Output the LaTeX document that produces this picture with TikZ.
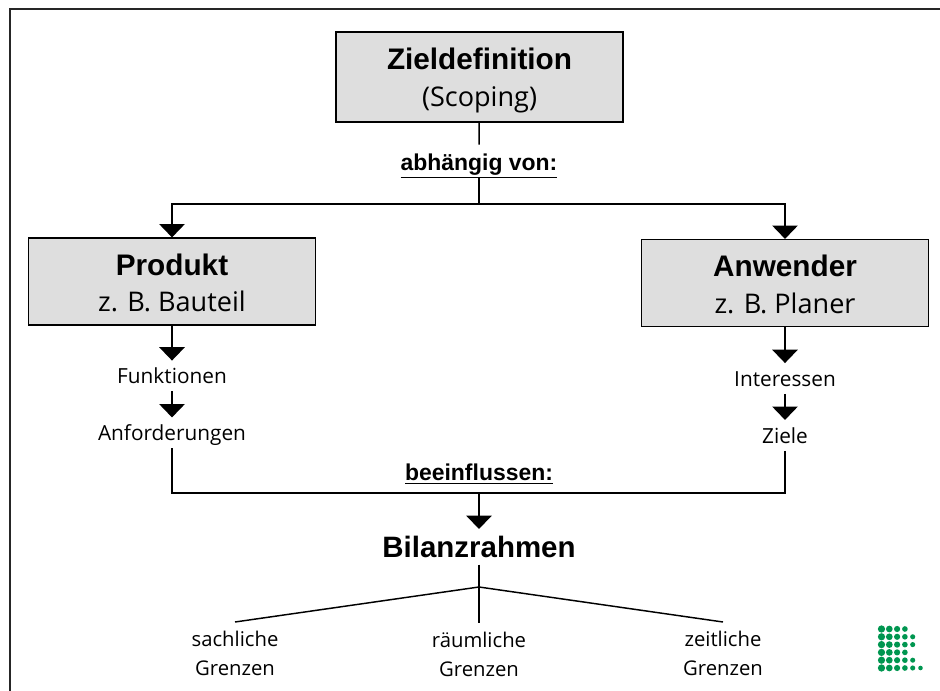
\documentclass[tikz,border=0pt]{standalone}
\usepackage{fontspec}
\setmainfont{Open Sans}
\newfontfamily\headfont{Liberation Sans}[BoldFont={Liberation Sans Bold}]
\usetikzlibrary{arrows.meta, positioning}
\definecolor{boxgray}{RGB}{222,222,222}
\definecolor{logogreen}{RGB}{0,150,80}
\newcommand{\boxhead}[2][18pt]{{\headfont\bfseries\fontsize{22.3}{27}\selectfont\rule{0pt}{#1}#2}}

\begin{document}
\begin{tikzpicture}[
    x=0.75pt, y=-0.75pt,
    >={Triangle[width=19pt, length=10pt]},
    box/.style={draw, line width=1.1pt, fill=boxgray, minimum width=215pt, align=center, inner sep=0pt, font=\fontsize{20.3}{27.4}\selectfont},
    sublabel/.style={inner sep=0pt, text height=17.25pt, text depth=5.5pt, font=\fontsize{15.6}{18}\selectfont},
    relation/.style={inner sep=0pt, text height=19.5pt, text depth=5.25pt, font=\headfont\bfseries\fontsize{17.2}{21}\selectfont},
    limit/.style={inner xsep=0pt, inner ysep=6.75pt, align=center, anchor=north, font=\fontsize{15.2}{21.75}\selectfont},
    line/.style={line width=1.1pt},
    flow/.style={->, line width=1.1pt},
]
\useasboundingbox (0,0) rectangle (940,691);

% === FRAME ===
\draw[line width=1.5pt, black!85] (940,9.5) -- (9.5,9.5) -- (9.5,691);

% === TOP BOX ===
\node[box, minimum height=67.5pt] (ziel) at (479.5,77) {\boxhead[21pt]{Zieldefinition}\\(Scoping)};
\node[relation] (abh) at (479,161.5) {\underline{abhängig von:}};
\coordinate (split) at (479,204);
\draw[line] (ziel) -- (abh);
\draw[line] (abh) -- (split);

% === LEFT / RIGHT BOXES ===
\node[box, minimum height=65pt] (produkt) at (172,281.5) {\boxhead{Produkt}\\z. B. Bauteil};
\node[box, minimum height=65pt] (anwender) at (785,283) {\boxhead{Anwender}\\z. B. Planer};
\draw[flow] (split) -| (produkt);
\draw[flow] (split) -| (anwender);

% === LEFT CHAIN ===
\node[sublabel, below=26.25pt of produkt] (funktionen) {Funktionen};
\node[sublabel, below=19.5pt of funktionen] (anforderungen) {Anforderungen};
\draw[flow] (produkt) -- (funktionen);
\draw[flow] (funktionen) -- (anforderungen);

% === RIGHT CHAIN ===
\node[sublabel, below=27pt of anwender] (interessen) {Interessen};
\node[sublabel, below=19.5pt of interessen] (ziele) {Ziele};
\draw[flow] (anwender) -- (interessen);
\draw[flow] (interessen) -- (ziele);

% === MERGE ===
\node[relation] (bee) at (479,471.5) {\underline{beeinflussen:}};
\coordinate (merge) at (479,493);
\node[inner sep=0pt, text height=21pt, text depth=5.25pt, font=\headfont\bfseries\fontsize{22.1}{27}\selectfont, below=27pt of merge] (bilanz) {Bilanzrahmen};
\draw[line] (anforderungen) |- (merge);
\draw[line] (ziele) |- (merge);
\draw[flow] (merge) -- (bilanz);

% === LIMITS ===
\coordinate (fork) at (479,587);
\node[limit] (sachlich) at (235,622) {sachliche\\Grenzen};
\node[limit] (raeumlich) at (479,623) {räumliche\\Grenzen};
\node[limit] (zeitlich) at (723,622) {zeitliche\\Grenzen};
\draw[line] (bilanz) -- (raeumlich);
\draw[line] (fork) -- (sachlich.north);
\draw[line] (fork) -- (zeitlich.north);

% === LOGO ===
\foreach \row/\cols in {0/4, 1/5, 2/5, 3/4, 4/5, 5/6} {
    \foreach \col in {1,...,\cols} {
        \fill[logogreen] ({881.5+7.8*(\col-1)},{629+7.8*\row}) circle ({(3.9-0.27*\col)*0.75pt});
    }
}

\end{tikzpicture}
\end{document}
